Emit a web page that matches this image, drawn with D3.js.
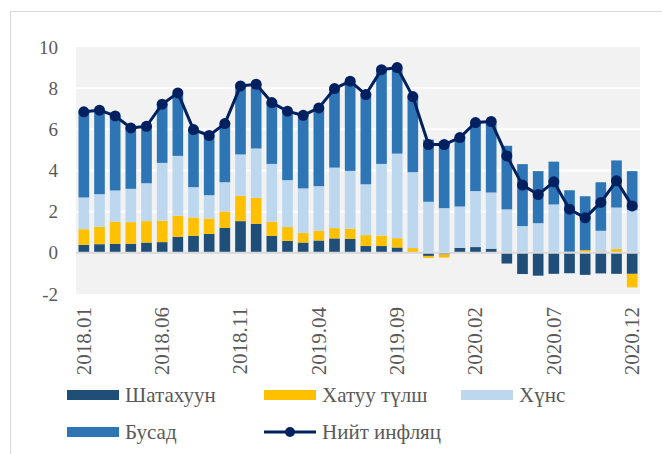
<!DOCTYPE html>
<html>
<head>
<meta charset="utf-8">
<script src="https://cdn.jsdelivr.net/npm/d3@7"></script>
<style>
  body { margin: 0; background: #fff; }
  text { font-family: "Liberation Serif", "Times New Roman", serif; fill: #595959; }
</style>
</head>
<body>
<svg id="chart"></svg>
<script>
// months on the x axis
const months = [
  '2018.01','2018.02','2018.03','2018.04','2018.05','2018.06','2018.07','2018.08','2018.09','2018.10','2018.11','2018.12',
  '2019.01','2019.02','2019.03','2019.04','2019.05','2019.06','2019.07','2019.08','2019.09','2019.10','2019.11','2019.12',
  '2020.01','2020.02','2020.03','2020.04','2020.05','2020.06','2020.07','2020.08','2020.09','2020.10','2020.11','2020.12'
];
const shownMonths = ['2018.01','2018.06','2018.11','2019.04','2019.09','2020.02','2020.07','2020.12'];

// contributions, percentage points
const shatakhuun = [0.39,0.42,0.44,0.44,0.50,0.52,0.78,0.83,0.92,1.21,1.54,1.41,
                    0.82,0.58,0.50,0.60,0.70,0.68,0.33,0.33,0.26,0.00,-0.15,-0.08,
                    0.24,0.28,0.20,-0.52,-1.03,-1.11,-1.02,-0.99,-1.07,-1.00,-1.02,-1.02];
const khatuuTulsh = [0.76,0.84,1.07,1.05,1.04,1.04,1.02,0.89,0.75,0.80,1.23,1.26,
                     0.69,0.67,0.47,0.47,0.50,0.49,0.53,0.51,0.45,0.23,-0.10,-0.15,
                     0.00,0.00,0.00,0.00,0.00,0.00,0.02,0.03,0.13,0.07,0.19,-0.66];
const khuns = [1.54,1.59,1.52,1.62,1.84,2.81,2.91,1.47,1.13,1.42,2.01,2.40,
               2.81,2.28,2.16,2.17,2.94,2.81,2.47,3.48,4.11,3.69,2.48,2.17,
               2.01,2.72,2.73,2.11,1.30,1.44,2.33,0.02,0.00,1.00,2.01,2.07];
const busad = [4.16,4.08,3.62,2.96,2.77,2.85,3.06,2.80,2.90,2.85,3.33,3.12,
               2.98,3.35,3.55,3.80,3.84,4.36,4.36,4.58,4.18,3.67,3.02,3.25,
               3.37,3.33,3.47,3.09,3.01,2.53,2.08,2.99,2.62,2.36,2.29,1.90];
const niitInflyats = [6.85,6.93,6.65,6.07,6.15,7.22,7.77,5.99,5.70,6.28,8.11,8.19,
                      7.30,6.88,6.68,7.04,7.98,8.34,7.69,8.90,9.00,7.59,5.26,5.26,
                      5.60,6.33,6.38,4.71,3.29,2.83,3.45,2.12,1.70,2.45,3.50,2.28];
const yTicks = [-2, 0, 2, 4, 6, 8, 10];

const seriesKeys = ['Шатахуун', 'Хатуу түлш', 'Хүнс', 'Бусад'];
const seriesColors = ['#1F4E79', '#FFC000', '#BDD7EE', '#2E75B6'];
const lineName = 'Нийт инфляц';
const lineColor = '#002060';

class InflationChart {
  constructor(config_, data_) {
    this.config = {
      svgElement: config_.svgElement,
      width: config_.width,
      height: config_.height,
      margin: config_.margin
    };
    this.data = data_;
    this.initVis();
  }

  initVis() {
    const vis = this;

    vis.width = vis.config.width - vis.config.margin.left - vis.config.margin.right;
    vis.height = vis.config.height - vis.config.margin.top - vis.config.margin.bottom;

    vis.xScale = d3.scaleBand()
      .range([0, vis.width])
      .paddingInner(0.32)
      .paddingOuter(0.16);

    vis.yScale = d3.scaleLinear()
      .range([vis.height, 0]);

    vis.svg = d3.select(vis.config.svgElement)
      .attr('width', vis.config.width)
      .attr('height', vis.config.height);

    // outer chart frame (runs off the right and bottom edge)
    vis.svg.append('rect')
      .attr('x', 10.5).attr('y', 11.5)
      .attr('width', vis.config.width + 20).attr('height', vis.config.height + 20)
      .attr('fill', 'none')
      .attr('stroke', '#D9D9D9')
      .attr('stroke-width', 1);

    vis.chart = vis.svg.append('g')
      .attr('transform', `translate(${vis.config.margin.left},${vis.config.margin.top})`);

    vis.chart.append('rect')
      .attr('class', 'plot-bg')
      .attr('width', vis.width)
      .attr('height', vis.height)
      .attr('fill', '#F2F2F2');

    vis.gridG = vis.chart.append('g').attr('class', 'grid');
    vis.barsG = vis.chart.append('g').attr('class', 'bars');
    vis.zeroG = vis.chart.append('g').attr('class', 'zero');
    vis.lineG = vis.chart.append('g').attr('class', 'line');

    vis.xAxisG = vis.chart.append('g')
      .attr('class', 'axis x-axis')
      .attr('transform', `translate(0,${vis.height})`);

    vis.yAxisG = vis.chart.append('g')
      .attr('class', 'axis y-axis');

    vis.legendG = vis.svg.append('g').attr('class', 'legend');

    vis.stack = d3.stack()
      .keys(seriesKeys)
      .offset(d3.stackOffsetDiverging);

    vis.updateVis();
  }

  updateVis() {
    const vis = this;

    vis.xValue = d => d.month;

    vis.xScale.domain(vis.data.map(vis.xValue));
    vis.yScale.domain([yTicks[0], yTicks[yTicks.length - 1]]);

    vis.stackedData = vis.stack(vis.data);

    vis.renderVis();
  }

  renderVis() {
    const vis = this;
    const cx = d => vis.xScale(d.month) + vis.xScale.bandwidth() / 2;

    // white gridlines
    vis.gridG.selectAll('line')
      .data(yTicks.filter(t => t > yTicks[0] && t < yTicks[yTicks.length - 1] && t !== 0))
      .join('line')
        .attr('x1', 0)
        .attr('x2', vis.width)
        .attr('y1', d => vis.yScale(d))
        .attr('y2', d => vis.yScale(d))
        .attr('stroke', '#FFFFFF')
        .attr('stroke-width', 2);

    vis.barsG.selectAll('.category')
      .data(vis.stackedData)
      .join('g')
        .attr('class', d => `category cat-${d.index}`)
        .attr('fill', (d, i) => seriesColors[i])
      .selectAll('rect')
        .data(d => d)
      .join('rect')
        .attr('x', d => vis.xScale(d.data.month))
        .attr('y', d => vis.yScale(Math.max(d[0], d[1])))
        .attr('height', d => Math.abs(vis.yScale(d[0]) - vis.yScale(d[1])))
        .attr('width', vis.xScale.bandwidth());

    vis.zeroG.append('line')
      .attr('x1', 0)
      .attr('x2', vis.width)
      .attr('y1', vis.yScale(0))
      .attr('y2', vis.yScale(0))
      .attr('stroke', '#D9D9D9')
      .attr('stroke-width', 2);

    const line = d3.line()
      .x(cx)
      .y(d => vis.yScale(d.total));

    vis.lineG.append('path')
      .datum(vis.data)
      .attr('d', line)
      .attr('fill', 'none')
      .attr('stroke', lineColor)
      .attr('stroke-width', 3)
      .attr('stroke-linejoin', 'round');

    vis.lineG.selectAll('circle')
      .data(vis.data)
      .join('circle')
        .attr('cx', cx)
        .attr('cy', d => vis.yScale(d.total))
        .attr('r', 5.5)
        .attr('fill', lineColor);

    // axes
    vis.xAxis = d3.axisBottom(vis.xScale)
      .tickValues(shownMonths)
      .tickSize(0);

    vis.yAxis = d3.axisLeft(vis.yScale)
      .tickValues(yTicks)
      .tickFormat(d => String(d))   // plain hyphen for -2
      .tickSize(0)
      .tickPadding(18);

    vis.xAxisG
      .call(vis.xAxis)
      .call(g => g.select('.domain').remove());

    vis.xAxisG.selectAll('text')
      .attr('font-size', 21)
      .attr('transform', 'rotate(-90)')
      .attr('text-anchor', 'end')
      .attr('dx', -13)
      .attr('dy', '0.33em')
      .attr('y', 0)
      .attr('x', 0);

    vis.yAxisG
      .call(vis.yAxis)
      .call(g => g.select('.domain').remove());

    vis.yAxisG.selectAll('text')
      .attr('font-size', 19);

    vis.svg.selectAll('.axis text').attr('fill', '#595959').attr('font-family', null);

    // legend
    const legendItems = seriesKeys.map((k, i) => ({ name: k, color: seriesColors[i], type: 'bar' }))
      .concat([{ name: lineName, color: lineColor, type: 'line' }]);

    const item = vis.legendG.selectAll('g')
      .data(legendItems)
      .join('g')
        .attr('transform', (d, i) => `translate(${67 + (i % 3) * 197},${395 + Math.floor(i / 3) * 37})`);

    item.filter(d => d.type === 'bar')
      .append('rect')
        .attr('x', 0).attr('y', -5)
        .attr('width', 52).attr('height', 10)
        .attr('fill', d => d.color);

    const lineItem = item.filter(d => d.type === 'line');
    lineItem.append('line')
      .attr('x1', 0).attr('x2', 52)
      .attr('stroke', d => d.color)
      .attr('stroke-width', 3);
    lineItem.append('circle')
      .attr('cx', 26).attr('r', 5)
      .attr('fill', d => d.color);

    item.append('text')
      .attr('x', 58)
      .attr('dy', '0.35em')
      .attr('font-size', 21)
      .text(d => d.name);
  }
}

const rows = months.map((m, i) => ({
  month: m,
  'Шатахуун': shatakhuun[i],
  'Хатуу түлш': khatuuTulsh[i],
  'Хүнс': khuns[i],
  'Бусад': busad[i],
  total: niitInflyats[i]
}));

new InflationChart({
  svgElement: '#chart',
  width: 662,
  height: 454,
  margin: { top: 47, right: 22, bottom: 160, left: 76 }
}, rows);
</script>
</body>
</html>
